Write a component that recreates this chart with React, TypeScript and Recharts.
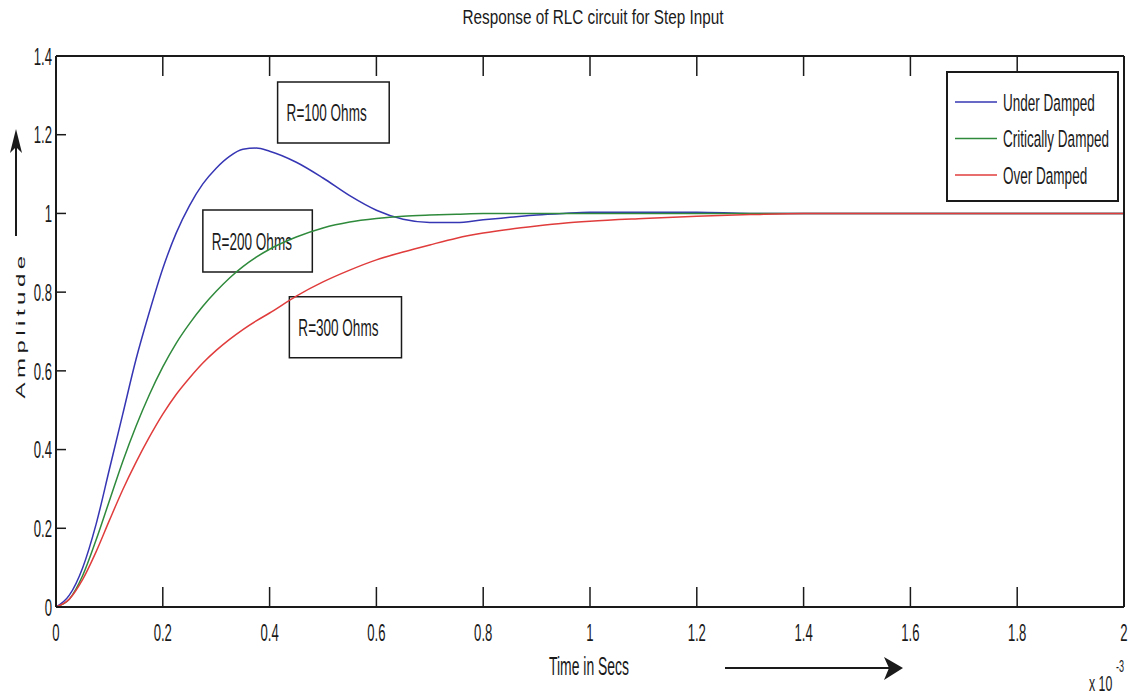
import React from "react";
import { LineChart, Line, XAxis, YAxis, ReferenceArea, Legend } from "recharts";

// time axis in ms (plotted as "x 10^-3" seconds)
const timeMs = [
  0, 0.025, 0.05, 0.075, 0.1, 0.125, 0.15, 0.175, 0.2, 0.225, 0.25, 0.275, 0.3, 0.325, 0.35, 0.375, 0.4,
  0.45, 0.5, 0.55, 0.6, 0.65, 0.7, 0.75, 0.8, 0.85, 0.9, 0.95, 1.0, 1.1, 1.2, 1.3, 1.4, 1.5, 1.6, 1.7, 1.8, 1.9, 2.0,
];

const underDamped = [
  0, 0.03, 0.1, 0.21, 0.35, 0.49, 0.63, 0.75, 0.86, 0.95, 1.02, 1.075, 1.115, 1.145, 1.163, 1.166, 1.158,
  1.13, 1.09, 1.045, 1.008, 0.985, 0.977, 0.977, 0.984, 0.99, 0.996, 1.0, 1.003, 1.003, 1.003, 1.0, 1.0, 1.0, 1.0, 1.0, 1.0, 1.0, 1.0,
];

const criticallyDamped = [
  0, 0.02, 0.08, 0.17, 0.27, 0.37, 0.46, 0.54, 0.61, 0.67, 0.72, 0.764, 0.802, 0.836, 0.865, 0.889, 0.909,
  0.94, 0.963, 0.978, 0.987, 0.993, 0.996, 0.998, 1.0, 1.0, 1.0, 1.0, 1.0, 1.0, 1.0, 1.0, 1.0, 1.0, 1.0, 1.0, 1.0, 1.0, 1.0,
];

const overDamped = [
  0, 0.02, 0.07, 0.14, 0.22, 0.298, 0.368, 0.432, 0.49, 0.54, 0.582, 0.62, 0.652, 0.68, 0.705, 0.727, 0.747,
  0.79, 0.826, 0.856, 0.882, 0.902, 0.92, 0.937, 0.95, 0.96, 0.968, 0.975, 0.98, 0.987, 0.993, 0.997, 1.0, 1.0, 1.0, 1.0, 1.0, 1.0, 1.0,
];

const xTicks = [0, 0.2, 0.4, 0.6, 0.8, 1, 1.2, 1.4, 1.6, 1.8, 2];
const yTicks = [0, 0.2, 0.4, 0.6, 0.8, 1, 1.2, 1.4];

const seriesNames = ["Under Damped", "Critically Damped", "Over Damped"];
const resistorLabels = ["R=100 Ohms", "R=200 Ohms", "R=300 Ohms"];

const data = timeMs.map((t, i) => ({
  t,
  under: underDamped[i],
  critical: criticallyDamped[i],
  over: overDamped[i],
}));

// Arial-metric font squeezed horizontally to look like Arial Narrow
const FONT = '"Liberation Sans", Arial, sans-serif';
const INK = "#1a1a1a";

// annotation boxes, in data units
const boxes = [
  { label: resistorLabels[0], x1: 0.415, x2: 0.624, y1: 1.179, y2: 1.334 },
  { label: resistorLabels[1], x1: 0.275, x2: 0.48, y1: 0.851, y2: 1.009 },
  { label: resistorLabels[2], x1: 0.437, x2: 0.647, y1: 0.633, y2: 0.788 },
];

const fmt = (v: number) => String(+v.toFixed(1));

const StretchText = ({ x, y, children, anchor = "start", size = 16, sx = 0.82, sy = 1.5 }: any) => (
  <text
    transform={`translate(${x},${y}) scale(${sx},${sy})`}
    textAnchor={anchor}
    dominantBaseline="central"
    fontFamily={FONT}
    fontSize={size}
    fill={INK}
  >
    {children}
  </text>
);

const BottomTick = ({ x, y, payload }: any) => (
  <g>
    <line x1={x} y1={y} x2={x} y2={y - 20} stroke={INK} strokeWidth={1.5} />
    <StretchText x={x} y={y + 25} anchor="middle">
      {fmt(payload.value)}
    </StretchText>
  </g>
);

const TopTick = ({ x, y }: any) => <line x1={x} y1={y} x2={x} y2={y + 20} stroke={INK} strokeWidth={1.5} />;

const LeftTick = ({ x, y, payload }: any) => (
  <g>
    <line x1={x} y1={y} x2={x + 10} y2={y} stroke={INK} strokeWidth={1.5} />
    <StretchText x={x - 4} y={y} anchor="end">
      {fmt(payload.value)}
    </StretchText>
  </g>
);

const RightTick = ({ x, y }: any) => <line x1={x} y1={y} x2={x - 10} y2={y} stroke={INK} strokeWidth={1.5} />;

const renderLegend = ({ payload }: any) => {
  const items = [...(payload || [])].sort(
    (a: any, b: any) => seriesNames.indexOf(a.value) - seriesNames.indexOf(b.value)
  );
  return (
    <svg width={173} height={131} style={{ display: "block" }}>
      <rect x={1} y={1} width={171} height={129} fill="#fff" stroke={INK} strokeWidth={2} />
      {items.map((p: any, i: number) => {
        const cy = 31 + i * 36.5;
        return (
          <g key={p.value}>
            <line x1={9} y1={cy} x2={51} y2={cy} stroke={p.color} strokeWidth={1.5} />
            <StretchText x={57} y={cy} size={16.5}>
              {p.value}
            </StretchText>
          </g>
        );
      })}
    </svg>
  );
};

export default function App() {
  return (
    <div style={{ position: "absolute", left: 0, top: 0, width: 1131, height: 695, background: "#fff" }}>
      <LineChart width={1131} height={695} data={data} margin={{ top: 36, right: 2, bottom: 48, left: 0 }}>
        <XAxis
          dataKey="t"
          type="number"
          domain={[0, 2]}
          ticks={xTicks}
          interval={0}
          height={40}
          tickSize={0}
          tickMargin={0}
          tickLine={false}
          axisLine={{ stroke: INK, strokeWidth: 2 }}
          tick={<BottomTick />}
        />
        <XAxis
          xAxisId="top"
          orientation="top"
          dataKey="t"
          type="number"
          domain={[0, 2]}
          ticks={xTicks}
          interval={0}
          height={20}
          tickSize={0}
          tickMargin={0}
          tickLine={false}
          axisLine={{ stroke: INK, strokeWidth: 2 }}
          tick={<TopTick />}
        />
        <YAxis
          type="number"
          domain={[0, 1.4]}
          ticks={yTicks}
          interval={0}
          width={56}
          tickSize={0}
          tickMargin={0}
          tickLine={false}
          axisLine={{ stroke: INK, strokeWidth: 2 }}
          tick={<LeftTick />}
        />
        <YAxis
          yAxisId="right"
          orientation="right"
          type="number"
          domain={[0, 1.4]}
          ticks={yTicks}
          interval={0}
          width={5}
          tickSize={0}
          tickMargin={0}
          tickLine={false}
          axisLine={{ stroke: INK, strokeWidth: 2 }}
          tick={<RightTick />}
        />
        {boxes.map((b) => (
          <ReferenceArea
            key={b.label}
            x1={b.x1}
            x2={b.x2}
            y1={b.y1}
            y2={b.y2}
            fill="none"
            fillOpacity={0}
            stroke={INK}
            strokeWidth={1.5}
            label={(p: any) => (
              <StretchText x={p.viewBox.x + 9} y={p.viewBox.y + p.viewBox.height / 2} size={16.5}>
                {b.label}
              </StretchText>
            )}
          />
        ))}
        <Line
          dataKey="under"
          name={seriesNames[0]}
          stroke="#3636b4"
          strokeWidth={1.5}
          dot={false}
          type="monotone"
          isAnimationActive={false}
        />
        <Line
          dataKey="critical"
          name={seriesNames[1]}
          stroke="#2f8a3c"
          strokeWidth={1.5}
          dot={false}
          type="monotone"
          isAnimationActive={false}
        />
        <Line
          dataKey="over"
          name={seriesNames[2]}
          stroke="#e03c3c"
          strokeWidth={1.5}
          dot={false}
          type="monotone"
          isAnimationActive={false}
        />
        <Legend
          layout="vertical"
          align="center"
          verticalAlign="middle"
          wrapperStyle={{ left: 946, top: 71, width: 173, height: 131 }}
          content={renderLegend}
        />
      </LineChart>
      <svg
        width={1131}
        height={695}
        style={{ position: "absolute", left: 0, top: 0, pointerEvents: "none" }}
      >
        <StretchText x={593} y={17} anchor="middle" size={18} sx={0.85} sy={1.15}>
          Response of RLC circuit for Step Input
        </StretchText>
        <StretchText x={589} y={666} anchor="middle" size={17}>
          Time in Secs
        </StretchText>
        <line x1={725} y1={668} x2={890} y2={668} stroke={INK} strokeWidth={2} />
        <polygon points="903,668 884,657 889,668 884,680" fill={INK} />
        <text
          transform="translate(20,325) rotate(-90) scale(1.5,0.82)"
          textAnchor="middle"
          dominantBaseline="central"
          fontFamily={FONT}
          fontSize={16}
          letterSpacing={3}
          fill={INK}
        >
          Amplitude
        </text>
        <line x1={16} y1={236} x2={16} y2={142} stroke={INK} strokeWidth={2} />
        <polygon points="16,129 10,153 16,147 22,153" fill={INK} />
        <StretchText x={1089} y={684} size={15}>
          x 10
        </StretchText>
        <StretchText x={1116} y={666} size={11}>
          -3
        </StretchText>
      </svg>
    </div>
  );
}
